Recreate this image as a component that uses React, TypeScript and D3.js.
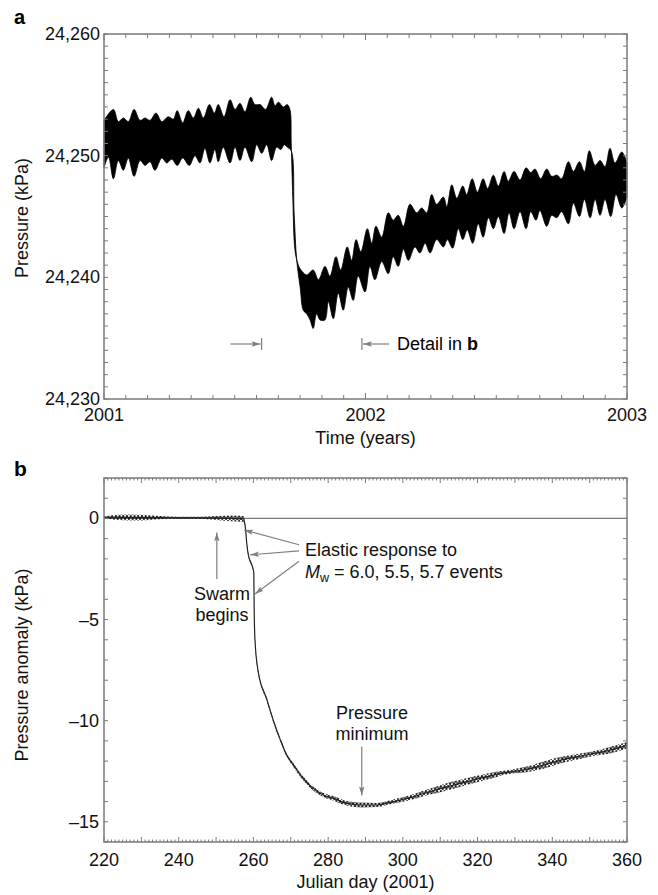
import * as d3 from "d3";

// Panel a: envelope of the pressure record, [decimal year, kPa]
const aUpper: [number, number][] = [
  [2001.0, 24252.9], [2001.036, 24253.8], [2001.055, 24252.8], [2001.074, 24253.1],
  [2001.093, 24252.8], [2001.115, 24253.8], [2001.138, 24252.9], [2001.157, 24253.1],
  [2001.176, 24252.9], [2001.199, 24253.5], [2001.221, 24252.8], [2001.246, 24253.2],
  [2001.265, 24253.0], [2001.28, 24253.7], [2001.301, 24252.7], [2001.322, 24253.7],
  [2001.342, 24253.1], [2001.361, 24253.9], [2001.38, 24253.1], [2001.403, 24254.2],
  [2001.422, 24253.5], [2001.437, 24254.2], [2001.459, 24253.2], [2001.482, 24254.6],
  [2001.501, 24253.8], [2001.52, 24254.3], [2001.539, 24253.6], [2001.561, 24254.8],
  [2001.577, 24254.2], [2001.597, 24254.2], [2001.618, 24253.8], [2001.641, 24254.8],
  [2001.654, 24254.1], [2001.667, 24254.4], [2001.686, 24254.0], [2001.7, 24254.2],
  [2001.711, 24253.8], [2001.716, 24251.0], [2001.722, 24246.5], [2001.73, 24242.3],
  [2001.74, 24241.2], [2001.75, 24240.7], [2001.775, 24240.2], [2001.8, 24240.6],
  [2001.82, 24239.8], [2001.845, 24240.9], [2001.864, 24240.1], [2001.887, 24241.7],
  [2001.905, 24240.6], [2001.93, 24242.5], [2001.947, 24241.4], [2001.964, 24243.1],
  [2001.982, 24242.1], [2002.007, 24244.0], [2002.024, 24242.8], [2002.04, 24244.2],
  [2002.062, 24243.3], [2002.087, 24245.3], [2002.106, 24244.7], [2002.125, 24245.1],
  [2002.145, 24244.2], [2002.17, 24246.0], [2002.196, 24245.3], [2002.215, 24245.7],
  [2002.234, 24245.3], [2002.253, 24246.8], [2002.272, 24246.0], [2002.298, 24246.6],
  [2002.311, 24245.8], [2002.33, 24247.6], [2002.349, 24246.5], [2002.372, 24247.5],
  [2002.387, 24246.8], [2002.408, 24248.1], [2002.428, 24247.0], [2002.45, 24248.1],
  [2002.467, 24247.3], [2002.489, 24248.4], [2002.508, 24247.5], [2002.53, 24248.7],
  [2002.546, 24247.9], [2002.568, 24248.7], [2002.591, 24248.0], [2002.614, 24249.0],
  [2002.632, 24248.6], [2002.648, 24248.9], [2002.67, 24248.1], [2002.693, 24248.9],
  [2002.712, 24248.3], [2002.733, 24248.4], [2002.75, 24248.1], [2002.776, 24249.5],
  [2002.795, 24248.7], [2002.818, 24249.5], [2002.837, 24248.7], [2002.856, 24250.4],
  [2002.878, 24249.2], [2002.897, 24249.6], [2002.916, 24249.1], [2002.935, 24250.6],
  [2002.954, 24249.4], [2002.98, 24250.3], [2003.0, 24249.4],
];

const aLower: [number, number][] = [
  [2001.0, 24249.0], [2001.017, 24249.9], [2001.036, 24248.1], [2001.055, 24249.6],
  [2001.074, 24248.8], [2001.093, 24249.8], [2001.115, 24248.3], [2001.138, 24249.6],
  [2001.157, 24249.2], [2001.176, 24249.5], [2001.195, 24248.8], [2001.221, 24249.8],
  [2001.24, 24249.4], [2001.259, 24249.7], [2001.28, 24249.2], [2001.301, 24249.8],
  [2001.326, 24249.2], [2001.348, 24250.0], [2001.367, 24249.4], [2001.386, 24250.6],
  [2001.405, 24249.4], [2001.424, 24250.5], [2001.437, 24249.5], [2001.456, 24250.7],
  [2001.482, 24249.4], [2001.501, 24250.7], [2001.52, 24249.6], [2001.539, 24250.7],
  [2001.565, 24249.5], [2001.584, 24250.9], [2001.603, 24250.2], [2001.622, 24250.9],
  [2001.641, 24249.6], [2001.66, 24250.7], [2001.676, 24250.5], [2001.689, 24250.9],
  [2001.701, 24250.7], [2001.716, 24250.4], [2001.727, 24245.3], [2001.737, 24241.4],
  [2001.75, 24239.2], [2001.762, 24237.3], [2001.775, 24237.0], [2001.788, 24236.5],
  [2001.8, 24235.8], [2001.813, 24237.0], [2001.826, 24236.5], [2001.845, 24236.5],
  [2001.858, 24238.0], [2001.877, 24236.6], [2001.896, 24238.7], [2001.915, 24237.3],
  [2001.934, 24239.2], [2001.953, 24238.1], [2001.972, 24240.1], [2001.998, 24238.8],
  [2002.017, 24240.9], [2002.036, 24239.8], [2002.062, 24241.3], [2002.087, 24240.3],
  [2002.106, 24241.7], [2002.125, 24240.9], [2002.145, 24242.3], [2002.164, 24241.4],
  [2002.189, 24242.5], [2002.208, 24242.0], [2002.228, 24242.8], [2002.247, 24242.0],
  [2002.272, 24243.1], [2002.298, 24242.5], [2002.313, 24243.1], [2002.333, 24242.4],
  [2002.355, 24244.0], [2002.372, 24243.1], [2002.389, 24243.9], [2002.41, 24242.8],
  [2002.431, 24244.4], [2002.45, 24243.3], [2002.47, 24244.9], [2002.489, 24244.0],
  [2002.508, 24245.0], [2002.53, 24243.6], [2002.549, 24245.3], [2002.568, 24244.0],
  [2002.591, 24245.4], [2002.614, 24244.0], [2002.632, 24245.4], [2002.652, 24244.7],
  [2002.667, 24245.5], [2002.693, 24244.2], [2002.712, 24245.1], [2002.731, 24244.9],
  [2002.75, 24245.4], [2002.776, 24244.4], [2002.795, 24246.1], [2002.818, 24245.0],
  [2002.837, 24246.4], [2002.859, 24244.9], [2002.878, 24246.4], [2002.897, 24245.1],
  [2002.916, 24246.4], [2002.938, 24245.0], [2002.958, 24246.8], [2002.98, 24245.7],
  [2003.0, 24246.6],
];

const aYearTicks = [2001, 2002, 2003];
const aPressureTicks = [24230, 24240, 24250, 24260];
const detailDays = [220, 360];

// Panel b: pressure anomaly by Julian day (2001)
const bDays = [
  220, 225, 230, 235, 240, 245, 250, 254, 257.3, 257.9, 258.2, 258.6, 259.3, 259.8,
  260.1, 260.2, 260.4, 261.3, 263.5, 265.3, 267.1, 268.9, 270.7, 273.3, 276, 278.7,
  281.4, 285, 289, 293, 297.4, 301.9, 306.4, 310.8, 315.3, 319.8, 324.2, 328.7, 333.1,
  337.6, 342.1, 346.5, 351, 355.4, 360,
];
const bValues = [
  0.06, 0.05, 0.04, 0.04, 0.03, 0.03, 0.02, 0.0, -0.02, -0.54, -1.2, -1.77, -2.18, -2.42,
  -2.68, -4.48, -5.96, -7.6, -8.9, -9.98, -10.9, -11.7, -12.2, -12.86, -13.35, -13.68,
  -13.84, -14.09, -14.17, -14.17, -14.0, -13.81, -13.55, -13.32, -13.1, -12.89, -12.69,
  -12.53, -12.41, -12.2, -11.96, -11.79, -11.63, -11.46, -11.22,
];
// half height of the tidal wiggle around the curve (kPa)
const bTide = [
  0.04, 0.14, 0.14, 0.08, 0.05, 0.05, 0.1, 0.14, 0.14, 0.06, 0.06, 0.06, 0.06, 0.06,
  0.06, 0.06, 0.06, 0.08, 0.08, 0.08, 0.08, 0.08, 0.1, 0.1, 0.1, 0.1, 0.12, 0.12, 0.12,
  0.1, 0.1, 0.12, 0.14, 0.18, 0.18, 0.16, 0.14, 0.1, 0.14, 0.18, 0.16, 0.14, 0.12, 0.16,
  0.16,
];
const bDayTicks = [220, 240, 260, 280, 300, 320, 340, 360];
const bValueTicks = [0, -5, -10, -15];

const FONT = "'Liberation Sans', Arial, Helvetica, sans-serif";
const AXIS = "#7a7a7a";
const ARROW = "#7f7f7f";
const FS = 18;

export default function App() {
  const left = 104;
  const right = 627;

  const xA = d3.scaleLinear().domain([2001, 2003]).range([left, right]);
  const yA = d3.scaleLinear().domain([24230, 24260]).range([399, 34]);
  const xB = d3.scaleLinear().domain([220, 360]).range([left, right]);
  const yB = d3.scaleLinear().domain([-16, 2]).range([842, 478]);

  const edge = d3
    .line<[number, number]>()
    .x((d) => xA(d[0]))
    .y((d) => yA(d[1]))
    .curve(d3.curveCatmullRom.alpha(0.5));
  const bandA =
    edge(aUpper) + "L" + (edge(aLower.slice().reverse()) as string).slice(1) + "Z";

  const bPoints = bDays.map((d, i) => ({ day: d, v: bValues[i], tide: bTide[i] }));
  const tideArea = d3
    .area<{ day: number; v: number; tide: number }>()
    .x((d) => xB(d.day))
    .y0((d) => yB(d.v - d.tide))
    .y1((d) => yB(d.v + d.tide))
    .curve(d3.curveMonotoneX);
  const trend = d3
    .line<{ day: number; v: number }>()
    .x((d) => xB(d.day))
    .y((d) => yB(d.v))
    .curve(d3.curveMonotoneX);

  const dayPx = xB(221) - xB(220);
  const monthTicks = d3.range(0, 25).map((m) => 2001 + m / 12);
  const kPaTicksA = d3.range(24230, 24261);
  const dayTicks = d3.range(220, 361);
  const kPaTicksB = d3.range(-16, 3);

  const detailX = detailDays.map((d) => xA(2001 + d / 365));
  const detailY = 344;

  return (
    <svg
      width={658}
      height={895}
      style={{ position: "absolute", left: 0, top: 0, background: "#fff" }}
      fontFamily={FONT}
    >
      <defs>
        <marker
          id="arr"
          viewBox="0 0 10 10"
          refX={10}
          refY={5}
          markerUnits="userSpaceOnUse"
          markerWidth={9}
          markerHeight={9}
          orient="auto"
        >
          <path d="M0,2 L10,5 L0,8 L2,5 Z" fill={ARROW} />
        </marker>
        <pattern id="tide" patternUnits="userSpaceOnUse" width={dayPx} height={5}>
          <path
            d={`M0,0 L${dayPx / 2},5 L${dayPx},0`}
            fill="none"
            stroke="#111"
            strokeWidth={1.1}
          />
        </pattern>
      </defs>

      {/* ---------- panel a ---------- */}
      <text x={14} y={24} fontSize={20} fontWeight="bold">a</text>
      <path d={bandA} fill="#000" stroke="#000" strokeWidth={0.8} strokeLinejoin="round" />

      <g stroke={AXIS} strokeWidth={1}>
        {kPaTicksA.map((p) => (
          <g key={p}>
            <line x1={left} x2={left + 4} y1={yA(p)} y2={yA(p)} />
            <line x1={right} x2={right - 4} y1={yA(p)} y2={yA(p)} />
          </g>
        ))}
        {monthTicks.map((t, i) => (
          <g key={i}>
            <line x1={xA(t)} x2={xA(t)} y1={399} y2={399 - (i % 12 === 0 ? 6 : 4)} />
            <line x1={xA(t)} x2={xA(t)} y1={34} y2={34 + (i % 12 === 0 ? 6 : 4)} />
          </g>
        ))}
      </g>
      <rect x={left} y={34} width={right - left} height={365} fill="none" stroke={AXIS} strokeWidth={1.5} />

      <g fontSize={FS} fill="#111">
        {aPressureTicks.map((p) => (
          <text key={p} x={100} y={yA(p)} textAnchor="end" dominantBaseline="central">
            {d3.format(",")(p)}
          </text>
        ))}
        {aYearTicks.map((t) => (
          <text key={t} x={xA(t)} y={421} textAnchor="middle">{t}</text>
        ))}
        <text x={(left + right) / 2} y={444} textAnchor="middle">Time (years)</text>
        <text transform="translate(28,218) rotate(-90)" textAnchor="middle">Pressure (kPa)</text>
      </g>

      {/* detail markers */}
      <g stroke={ARROW} strokeWidth={1.2}>
        <line x1={detailX[0]} x2={detailX[0]} y1={detailY - 6} y2={detailY + 6} />
        <line x1={detailX[0] - 31} x2={detailX[0] - 1} y1={detailY} y2={detailY} markerEnd="url(#arr)" />
        <line x1={detailX[1]} x2={detailX[1]} y1={detailY - 6} y2={detailY + 6} />
        <line x1={detailX[1] + 27} x2={detailX[1] + 1} y1={detailY} y2={detailY} markerEnd="url(#arr)" />
      </g>
      <text x={detailX[1] + 35} y={detailY} fontSize={FS} dominantBaseline="central">
        Detail in <tspan fontWeight="bold">b</tspan>
      </text>

      {/* ---------- panel b ---------- */}
      <text x={14} y={476} fontSize={21} fontWeight="bold">b</text>

      <line x1={left} x2={right} y1={yB(0)} y2={yB(0)} stroke={AXIS} strokeWidth={1.3} />
      <path d={tideArea(bPoints) as string} fill="url(#tide)" />
      <path d={trend(bPoints) as string} fill="none" stroke="#222" strokeWidth={1.2} />

      <g stroke={AXIS} strokeWidth={1}>
        {kPaTicksB.map((v) => (
          <g key={v}>
            <line x1={left} x2={left + 4} y1={yB(v)} y2={yB(v)} />
            <line x1={right} x2={right - 4} y1={yB(v)} y2={yB(v)} />
          </g>
        ))}
        {dayTicks.map((d) => (
          <g key={d}>
            <line x1={xB(d)} x2={xB(d)} y1={842} y2={842 - (d % 10 === 0 ? 5 : 2.5)} />
            <line x1={xB(d)} x2={xB(d)} y1={478} y2={478 + (d % 10 === 0 ? 5 : 2.5)} />
          </g>
        ))}
      </g>
      <rect x={left} y={478} width={right - left} height={364} fill="none" stroke={AXIS} strokeWidth={1.5} />

      <g fontSize={FS} fill="#111">
        {bValueTicks.map((v) => (
          <text key={v} x={99} y={yB(v)} textAnchor="end" dominantBaseline="central">
            {v < 0 ? "\u2013" + Math.abs(v) : v}
          </text>
        ))}
        {bDayTicks.map((d) => (
          <text key={d} x={xB(d)} y={866} textAnchor="middle">{d}</text>
        ))}
        <text x={(left + right) / 2} y={888} textAnchor="middle">Julian day (2001)</text>
        <text transform="translate(28,665) rotate(-90)" textAnchor="middle">Pressure anomaly (kPa)</text>
      </g>

      {/* annotations */}
      <g stroke={ARROW} strokeWidth={1.2} fill="none">
        <line x1={xB(250.2)} x2={xB(250.2)} y1={yB(-3.0)} y2={yB(-0.69)} markerEnd="url(#arr)" />
        <line x1={xB(272.2)} x2={xB(257.5)} y1={yB(-1.3)} y2={yB(-0.57)} markerEnd="url(#arr)" />
        <line x1={xB(272.2)} x2={xB(259.1)} y1={yB(-1.6)} y2={yB(-1.8)} markerEnd="url(#arr)" />
        <line x1={xB(272.2)} x2={xB(260.4)} y1={yB(-2.12)} y2={yB(-3.74)} markerEnd="url(#arr)" />
        <line x1={xB(289)} x2={xB(289)} y1={yB(-11.28)} y2={yB(-13.7)} markerEnd="url(#arr)" />
      </g>
      <g fontSize={FS} fill="#111">
        <text x={222} y={600} textAnchor="middle">Swarm</text>
        <text x={222} y={621} textAnchor="middle">begins</text>
        <text x={305} y={556}>Elastic response to</text>
        <text x={305} y={578}>
          <tspan fontStyle="italic">M</tspan>
          <tspan fontSize={12.5} dy={4}>w</tspan>
          <tspan dy={-4}> = 6.0, 5.5, 5.7 events</tspan>
        </text>
        <text x={372} y={719} textAnchor="middle">Pressure</text>
        <text x={372} y={740} textAnchor="middle">minimum</text>
      </g>
    </svg>
  );
}
